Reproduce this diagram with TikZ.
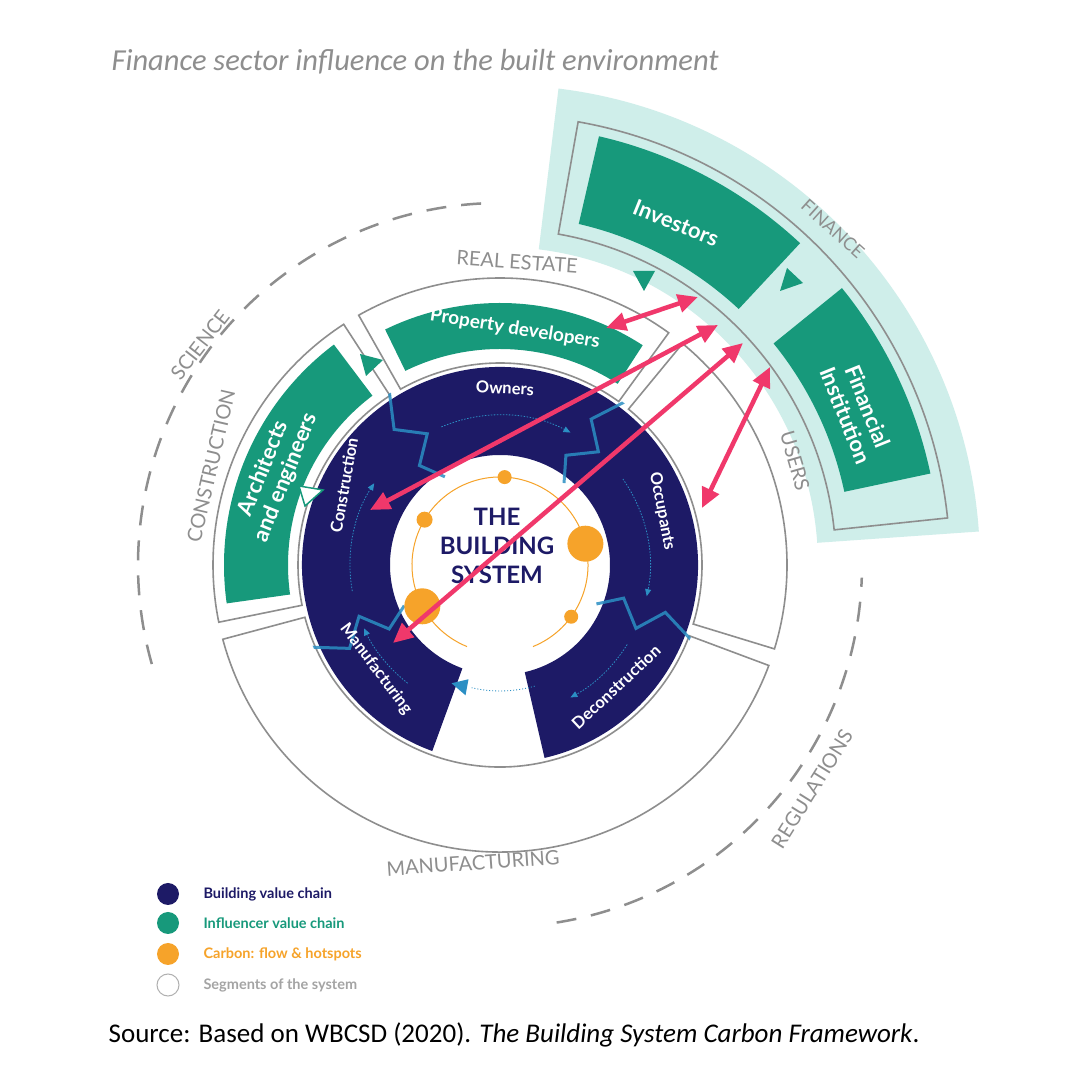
\documentclass[tikz,border=0pt]{standalone}
\usepackage{fontspec}
\setmainfont{Carlito}
\newfontfamily\lab{Lato}
\usetikzlibrary{arrows.meta}
\definecolor{navy}{HTML}{1D1A66}
\definecolor{grn}{HTML}{17997B}
\definecolor{lteal}{HTML}{CFEEEA}
\definecolor{orng}{HTML}{F6A32A}
\definecolor{pink}{HTML}{F0386B}
\definecolor{lblue}{HTML}{2B8FC4}
\definecolor{gry}{HTML}{8E8E8E}
\newcommand\annsec[4]{(#1:#3) arc[start angle=#1,end angle=#2,radius=#3] -- (#2:#4) arc[start angle=#2,end angle=#1,radius=#4] -- cycle}
\tikzset{
  seg/.style={draw=gry,line width=1.6pt,fill=white},
  glab/.style={font=\lab\bfseries\fontsize{22}{24}\selectfont,text=white,align=center},
  nlab/.style={font=\lab\bfseries\fontsize{16.5}{18}\selectfont,text=white},
  olab/.style={font=\lab\fontsize{20}{22}\selectfont,text=gry},
  zig/.style={draw=lblue,line width=3pt,opacity=.85,line join=miter},
  flow/.style={draw=lblue,line width=.8pt,dash pattern=on 1.5pt off 1.5pt,-{Triangle[length=7pt,width=6pt]}},
  parr/.style={draw=pink,line width=4.5pt,{Triangle[length=20pt,width=18pt]}-{Triangle[length=20pt,width=18pt]}},
  dot/.style={fill=orng},
  leg/.style={font=\lab\bfseries\fontsize{14.5}{16}\selectfont,anchor=west}
}
\begin{document}
\begin{tikzpicture}[x=1pt,y=1pt]
\useasboundingbox (0,0) rectangle (1080,1091);
\fill[white] (0,0) rectangle (1080,1091);
\node[anchor=west,font=\itshape\fontsize{30.5}{34}\selectfont,text=gry] (title) at (108,1029) {Finance sector influence on the built environment};
\node[font=\fontsize{27}{30}\selectfont] (src) at (514,56) {Source: Based on WBCSD (2020). \textit{The Building System Carbon Framework}.};
\begin{scope}[shift={(500,526)}]
% finance band
\fill[lteal] \annsec{4}{83}{318}{480};
\draw[draw=gry,line width=1.6pt] \annsec{6}{80}{336}{450};
\fill[grn] \annsec{47}{77}{350}{440};
\fill[grn] \annsec{12}{39}{352}{440};
% dashed outer
\draw[gry,line width=2.5pt,dash pattern=on 20pt off 15pt] (93:362) arc[start angle=93,end angle=196,radius=362];
\draw[gry,line width=2.5pt,dash pattern=on 20pt off 15pt] (-81:362) arc[start angle=-81,end angle=-2,radius=362];
% segments
\path[seg] \annsec{123}{191.5}{202}{287};
\path[seg] \annsec{54}{119.5}{202}{287};
\path[seg] \annsec{-17}{50.5}{202}{287};
\path[seg] \annsec{-165}{-20.5}{202}{287};
% influencer green
\fill[grn] \annsec{127}{188}{212}{276};
\fill[grn] \annsec{57}{116}{216}{262};
% navy ring
\fill[navy] \annsec{-77}{250}{110}{198};
% zigzags
\begin{scope}
\clip (0,0) circle[radius=204];
\foreach \t in {122,52,203,-22}{
  \draw[zig] (\t:104) -- (\t+7:128) -- (\t-3:150) -- (\t+6:172) -- (\t:210);
}
\end{scope}
% flows
\draw[flow] (113:150) arc[start angle=113,end angle=62,radius=150];
\draw[flow] (35:150) arc[start angle=35,end angle=-12,radius=150];
\draw[flow] (-32:150) arc[start angle=-32,end angle=-62,radius=150];
\draw[flow] (232:150) arc[start angle=232,end angle=205,radius=150];
\draw[flow] (190:150) arc[start angle=190,end angle=147,radius=150];
\draw[lblue,line width=.9pt,dash pattern=on 1pt off 2pt] (-74:126) arc[start angle=-74,end angle=-103,radius=126];
\fill[lblue] (-104:126)++(-4,-8) -- ++(-14,12) -- ++(17,4) -- cycle;
% orange
\draw[orng,line width=1pt] (-68:88) arc[start angle=-68,end angle=248,radius=88];
\fill[dot] (87:88) circle[radius=7];
\fill[dot] (149:88) circle[radius=8];
\fill[dot] (14:88) circle[radius=18];
\fill[dot] (208:88) circle[radius=18];
\fill[dot] (-36:88) circle[radius=7];
\end{scope}
% centre text
\node[font=\lab\bfseries\fontsize{24}{29}\selectfont,text=navy,align=center] (bs) at (497,545) {THE\\BUILDING\\SYSTEM};
% navy labels
\node[nlab,rotate=-3] (own) at (505,703) {Owners};
\node[nlab,rotate=80] (con) at (344,606) {Construction};
\node[nlab,rotate=-79] (occ) at (662,580) {Occupants};
\node[nlab,rotate=-53] (man) at (376,422) {Manufacturing};
\node[nlab,rotate=43] (dec) at (616,404) {Deconstruction};
% green labels
\node[glab,font=\lab\bfseries\fontsize{19}{21}\selectfont,rotate=-9] (pd) at (515,762) {Property developers};
\node[glab,rotate=68] (ae) at (275,618) {Architects\\and engineers};
\node[glab,rotate=-22] (inv) at (676,868) {Investors};
\node[glab,rotate=-68] (fi) at (857,680) {Financial\\Institution};
% outer labels
\node[olab,rotate=52] (sci) at (200,746) {SCIENCE};
\node[olab,rotate=77] (cons) at (211,625) {CONSTRUCTION};
\node[olab,rotate=-4] (re) at (517,829) {REAL ESTATE};
\node[olab,font=\lab\fontsize{18}{20}\selectfont,rotate=-42] (fin) at (833,862) {FINANCE};
\node[olab,rotate=-74] (us) at (795,630) {USERS};
\node[olab,rotate=4] (mf) at (473,228) {MANUFACTURING};
\node[olab,rotate=58] (reg) at (812,302) {REGULATIONS};
% green triangles
\fill[grn] (633,820) -- (655,820) -- (644,800) -- cycle;
\fill[grn] (780,800) -- (803,808) -- (787,823) -- cycle;
\fill[grn] (360,737) -- (383,731) -- (366,715) -- cycle;
\draw[grn,fill=white,line width=1.5pt] (299,605) -- (323,601) -- (305,585) -- cycle;
% pink arrows
\coordinate (p1a) at (606,763); \coordinate (p1b) at (698,794);
\coordinate (p2a) at (370,581); \coordinate (p2b) at (718,766);
\coordinate (p3a) at (393,448); \coordinate (p3b) at (743,748);
\coordinate (p4a) at (702,583); \coordinate (p4b) at (770,724);
\draw[parr] (p1a) -- (p1b);
\draw[parr] (p2a) -- (p2b);
\draw[parr] (p3a) -- (p3b);
\draw[parr] (p4a) -- (p4b);
% legend
\fill[navy] (168,197) circle[radius=11];
\fill[grn] (168,168) circle[radius=11];
\fill[orng] (168,137) circle[radius=11];
\draw[gry!70,line width=1pt] (168,106) circle[radius=11];
\node[leg,text=navy] (l1) at (200,197) {Building value chain};
\node[leg,text=grn] (l2) at (200,168) {Influencer value chain};
\node[leg,text=orng] (l3) at (200,137) {Carbon: flow \& hotspots};
\node[leg,text=gry!80] (l4) at (200,106) {Segments of the system};
\end{tikzpicture}
\end{document}
